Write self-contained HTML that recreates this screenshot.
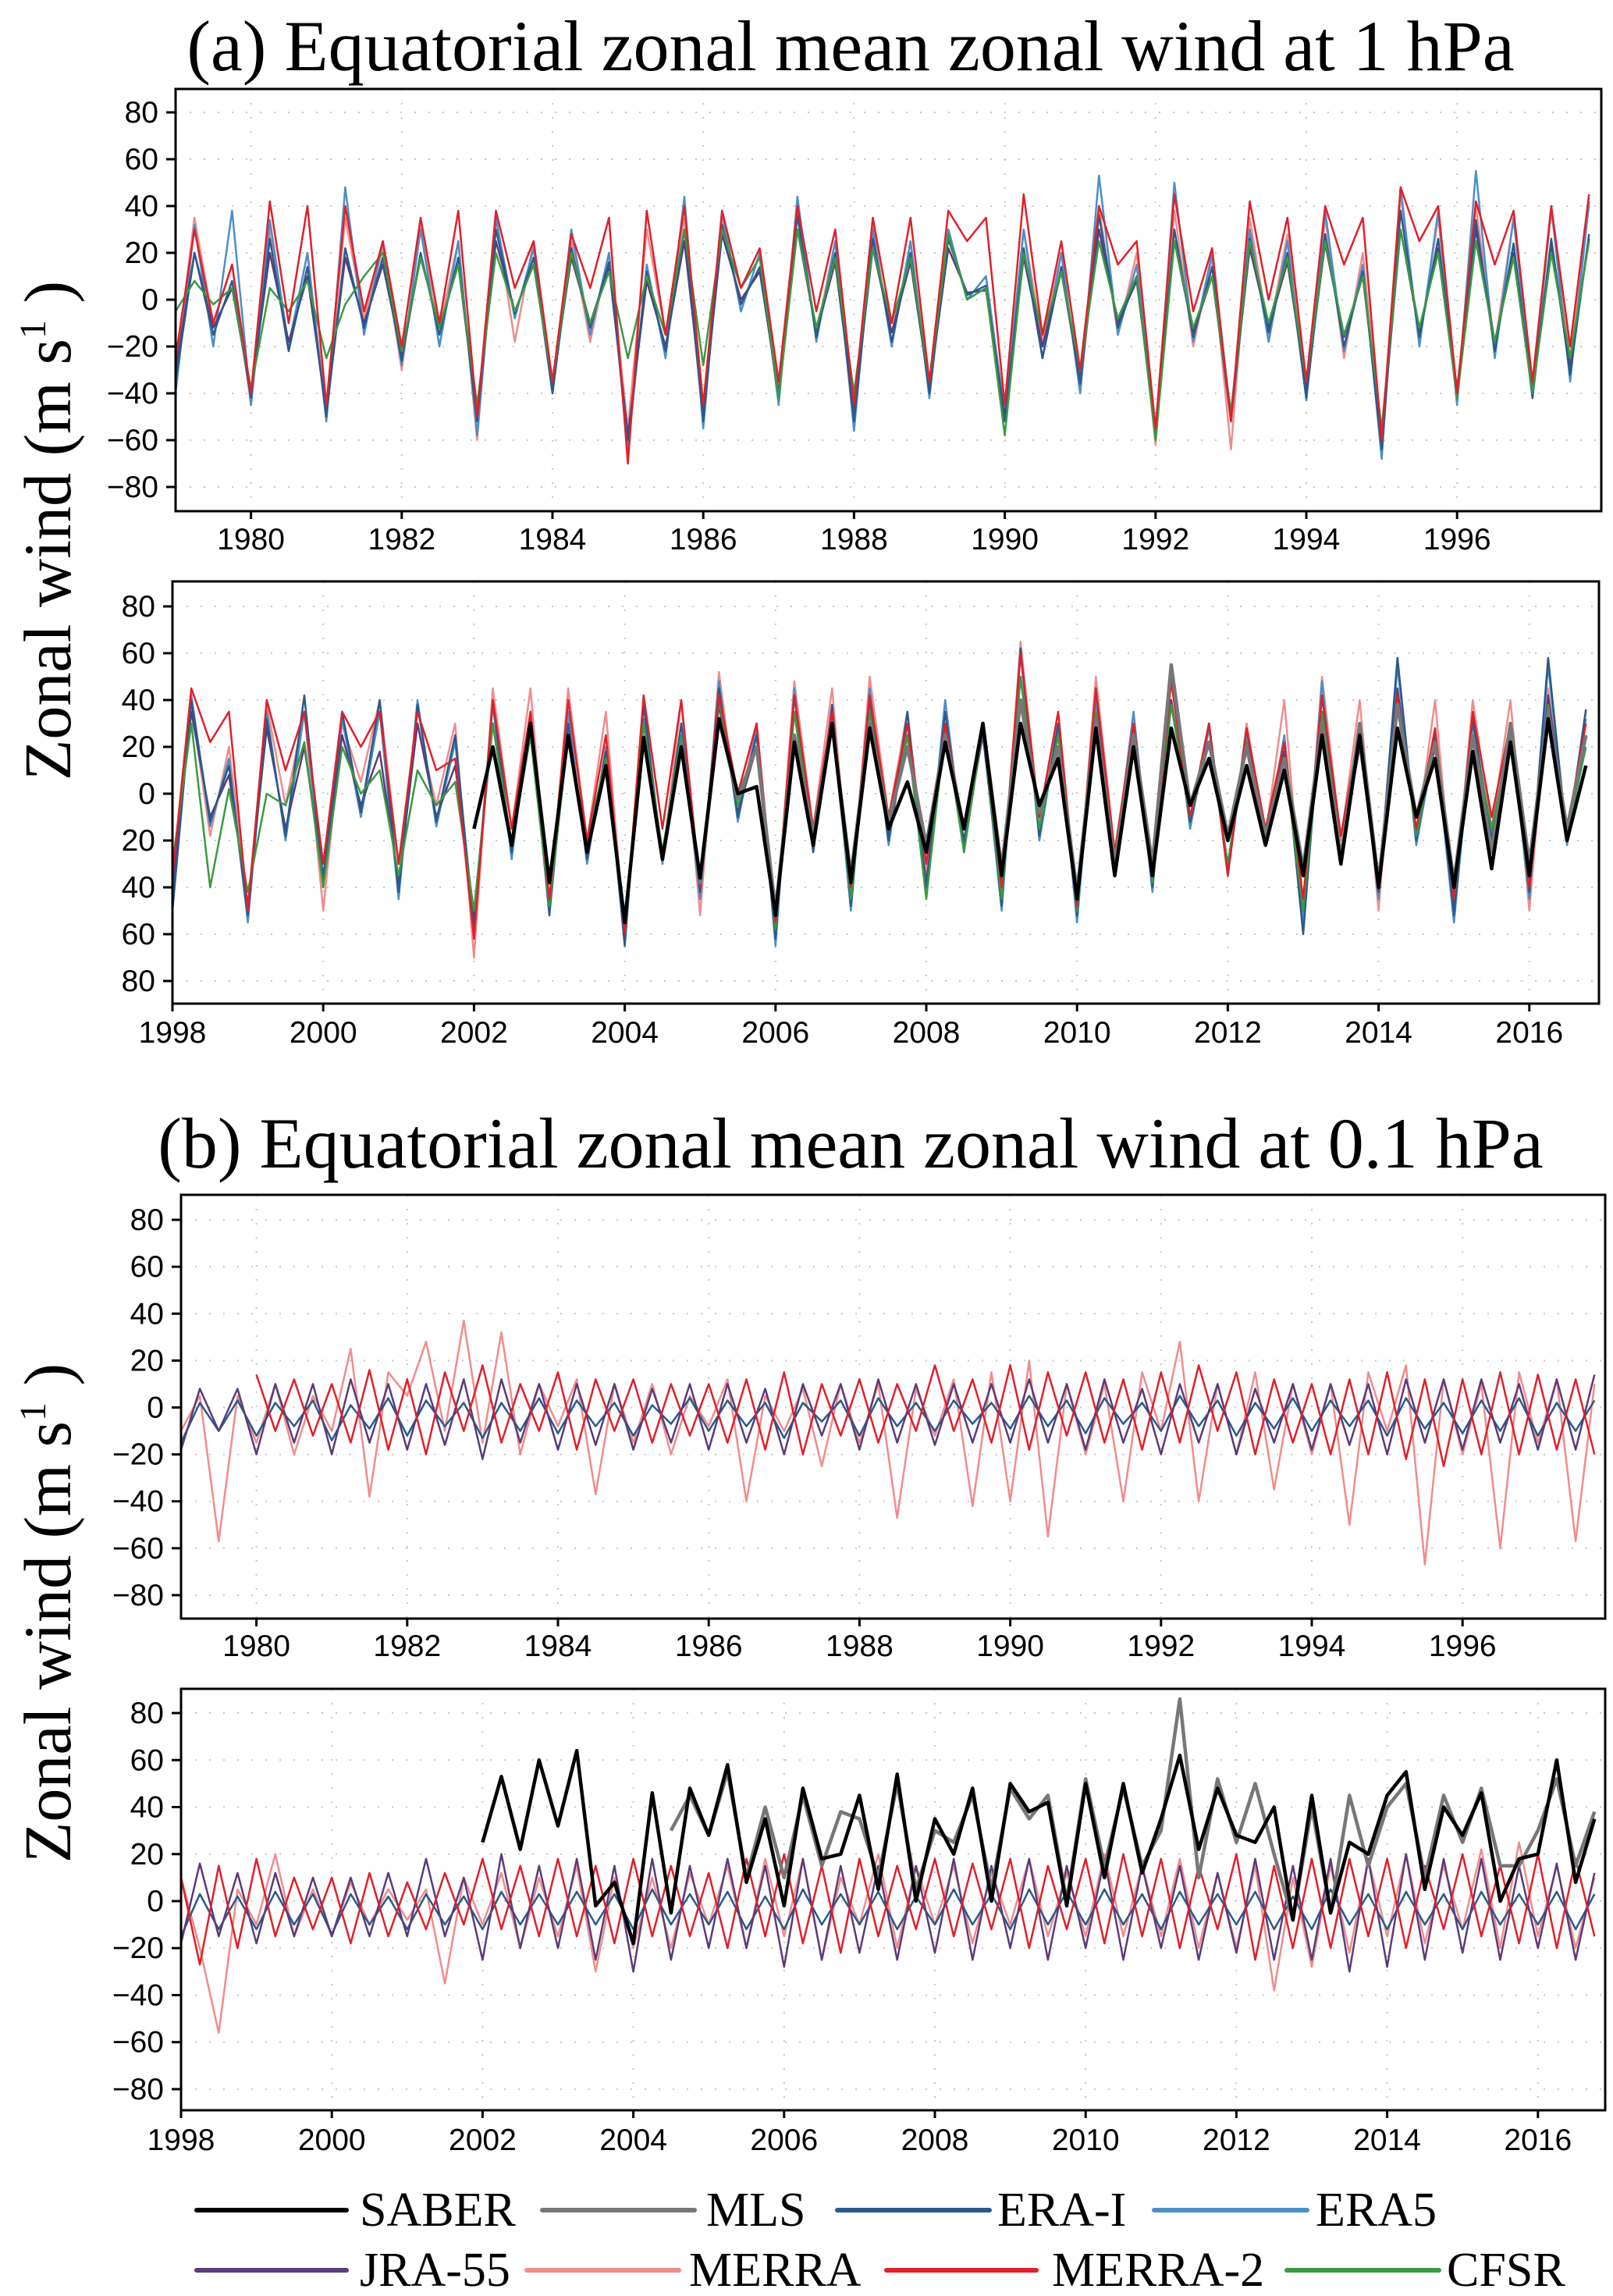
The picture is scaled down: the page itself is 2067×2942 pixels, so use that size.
<!DOCTYPE html>
<html><head><meta charset="utf-8">
<style>
html,body{margin:0;padding:0;background:#fff;}
svg{display:block;}
.tick{font-family:"Liberation Sans Narrow","Liberation Sans",sans-serif;font-size:39px;fill:#000;}
.title{font-family:"Liberation Serif",serif;font-size:92px;fill:#000;}
.ytitle{font-family:"Liberation Serif",serif;font-size:86px;fill:#000;}
.leg{font-family:"Liberation Serif",serif;font-size:62px;fill:#000;}
</style></head>
<body>
<svg id="chart" width="2067" height="2942" viewBox="0 0 2067 2942" xmlns="http://www.w3.org/2000/svg">
<text class="title" x="1090" y="90" text-anchor="middle">(a) Equatorial zonal mean zonal wind at 1 hPa</text>
<text class="title" x="1090" y="1496" text-anchor="middle">(b) Equatorial zonal mean zonal wind at 0.1 hPa</text>
<text class="ytitle" transform="translate(90,680) rotate(-90)" text-anchor="middle">Zonal wind (m s<tspan dy="-32" font-size="48">1</tspan><tspan dy="32"> )</tspan></text>
<text class="ytitle" transform="translate(90,2067) rotate(-90)" text-anchor="middle">Zonal wind (m s<tspan dy="-32" font-size="48">1</tspan><tspan dy="32"> )</tspan></text>
<g id="panels"></g>
<g id="legend"></g>
</svg>
<script>
const yTicks=[80,60,40,20,0,-20,-40,-60,-80];
const xTicksA=[1980,1982,1984,1986,1988,1990,1992,1994,1996];
const xTicksB=[1998,2000,2002,2004,2006,2008,2010,2012,2014,2016];
const seriesNames=["SABER","MLS","ERA-I","ERA5","JRA-55","MERRA","MERRA-2","CFSR"];
const seriesColors={"SABER":"#000000","MLS":"#777777","ERA-I":"#2a5a8a","ERA5":"#4b8fc6","JRA-55":"#5b3b7a","MERRA":"#f08c8c","MERRA-2":"#e0202a","CFSR":"#3a9a42"};
const seriesWidths={"SABER":4.5,"MLS":4.5,"ERA-I":2.5,"ERA5":2.5,"JRA-55":2.5,"MERRA":2.5,"MERRA-2":2.5,"CFSR":2.5};
const N=null;
// quarterly values (Jan, Apr, Jul, Oct) per year
const a1_ERAI=[-35,20,-15,8,-42,26,-22,14,-50,22,-12,18,-26,20,-15,18,-52,30,-6,18,-40,22,-12,16,-60,12,-22,30,-52,32,-2,14,-42,36,-16,20,-52,26,-18,20,-40,26,2,6,-52,22,-25,14,-36,36,-12,10,-58,30,-16,14,-52,26,-14,20,-42,28,-20,12,-64,38,-16,26,-42,34,-22,24,-42,26,-32,28];
const a1_ERA5=[-40,32,-20,38,-45,34,-20,20,-52,48,-15,25,-28,30,-20,25,-58,35,-8,22,-40,30,-15,20,-65,15,-25,44,-55,38,-5,20,-45,44,-18,25,-56,30,-20,25,-42,30,0,10,-50,30,-25,20,-40,53,-15,15,-60,50,-18,20,-50,30,-18,25,-43,38,-22,15,-68,48,-20,38,-45,55,-25,35,-42,40,-35,42];
const a1_JRA=[-30,20,-12,5,-40,20,-18,10,-48,18,-10,15,-24,18,-12,15,-50,25,-5,15,-36,18,-10,14,-58,8,-20,25,-48,28,0,12,-40,30,-14,16,-48,22,-14,16,-38,22,3,4,-50,18,-20,12,-34,30,-10,8,-56,25,-14,10,-50,22,-12,16,-38,24,-16,10,-60,30,-14,22,-38,30,-18,20,-38,22,-28,26];
const a1_MERRA=[-30,35,-10,15,-45,30,-20,20,-48,35,-8,22,-30,32,-12,25,-60,35,-18,25,-38,25,-18,20,-55,30,-15,35,-45,35,-5,20,-38,38,-15,25,-50,32,-20,25,-40,30,0,10,-48,30,-18,20,-40,40,-15,20,-62,38,-20,18,-64,35,-15,28,-40,35,-25,20,-62,45,-18,35,-40,40,-20,35,-38,38,-25,40];
const a1_MERRA2=[-25,30,-10,15,-40,42,-10,40,-45,40,-5,25,-20,35,-10,38,-50,38,5,25,-35,28,5,35,-70,38,-15,40,-45,38,5,22,-35,40,-5,30,-45,35,-10,35,-35,38,25,35,-45,45,-15,25,-30,40,15,25,-55,45,-5,22,-52,42,0,35,-35,40,15,35,-60,48,25,40,-40,42,15,38,-35,40,-20,45];
const a1_CFSR=[-5,8,-2,5,-38,5,-5,8,-25,-2,10,20,-22,18,-12,15,-45,20,-5,15,-35,20,-10,12,-25,10,-15,30,-28,30,5,18,-42,30,-12,18,-40,22,-10,18,-35,28,0,5,-58,20,-15,12,-30,25,-8,10,-60,25,-12,10,-48,25,-10,18,-35,25,-15,10,-55,30,-12,20,-42,25,-18,18,-40,20,-25,25];

const a2_ERAI=[-50,40,-12,12,-52,32,-18,42,-38,35,-8,40,-42,38,-12,25,-58,40,-25,32,-52,30,-28,18,-65,38,-28,30,-42,45,-10,25,-62,42,-25,38,-48,40,-20,35,-40,35,-22,30,-48,62,-18,30,-52,45,-32,30,-40,55,-12,30,-32,28,-20,22,-60,42,-28,25,-42,58,-20,25,-52,32,-20,30,-42,58,-20,36];
const a2_ERA5=[-48,42,-14,15,-55,35,-20,35,-40,32,-10,35,-45,40,-14,22,-55,38,-28,35,-50,35,-30,20,-60,32,-30,25,-45,48,-12,28,-65,45,-25,35,-50,45,-22,30,-42,40,-25,28,-50,60,-20,28,-55,40,-30,35,-42,50,-15,28,-35,25,-22,25,-55,48,-30,28,-45,55,-22,22,-55,30,-18,28,-45,55,-22,32];
const a2_JRA=[-40,35,-10,8,-48,28,-15,20,-35,25,-5,18,-38,30,-10,12,-52,30,-22,25,-48,25,-25,15,-58,30,-25,22,-40,38,-8,20,-58,35,-22,28,-45,35,-18,25,-38,28,-20,25,-45,50,-15,25,-50,35,-30,25,-38,40,-12,22,-30,22,-18,18,-50,35,-25,20,-40,45,-18,20,-48,25,-15,22,-40,42,-18,25];
const a2_MERRA=[-35,38,-18,20,-48,38,-5,35,-50,30,5,40,-30,30,-5,30,-70,45,-15,45,-50,45,-20,35,-60,40,-30,40,-52,52,-10,30,-58,48,-15,45,-48,50,-10,35,-35,35,-25,30,-48,65,-12,30,-50,50,-25,30,-35,55,-10,30,-35,30,-18,40,-55,50,-20,40,-50,55,-20,40,-50,40,-15,40,-50,45,-20,35];
const a2_MERRA2=[-35,45,22,35,-50,40,10,35,-30,35,20,35,-30,35,10,15,-62,40,-15,35,-45,40,-20,25,-60,42,-15,40,-40,42,0,30,-55,42,-15,35,-40,42,-10,30,-30,30,-15,30,-40,60,-10,35,-48,45,-25,30,-35,48,-10,30,-35,28,-15,22,-45,42,-18,28,-40,42,-15,28,-45,35,-10,30,-40,35,-15,30];
const a2_CFSR=[-30,30,-40,2,-42,0,-5,22,-40,20,0,10,-35,10,-5,5,-50,30,-22,25,-48,25,-20,15,-55,30,-25,25,-40,40,-5,20,-58,35,-20,30,-45,35,-15,25,-45,28,-25,28,-45,50,-15,25,-50,35,-30,25,-38,38,-10,22,-30,22,-18,15,-50,35,-25,22,-40,42,-18,22,-45,25,-15,25,-40,38,-18,20];
const a2_SABER=[N,N,N,N,N,N,N,N,N,N,N,N,N,N,N,N,-15,20,-22,30,-38,25,-25,12,-55,24,-28,20,-36,32,0,3,-52,22,-22,30,-38,28,-15,5,-25,22,-15,30,-35,30,-5,15,-45,28,-35,20,-35,28,-5,15,-20,12,-22,10,-35,25,-30,25,-40,28,-10,15,-40,18,-32,22,-35,32,-20,12];
const a2_MLS=[N,N,N,N,N,N,N,N,N,N,N,N,N,N,N,N,N,N,N,N,N,N,N,N,N,N,N,22,-38,32,-2,20,-50,25,-18,30,-35,30,-12,20,-22,25,-15,30,-32,40,-8,20,-42,32,-30,25,-30,55,-5,22,-18,20,-18,15,-32,30,-28,30,-38,38,-10,22,-38,25,-25,30,-30,35,-15,25];

const b1_ERAI=[-15,2,-10,3,-12,2,-8,3,-14,1,-9,4,-12,3,-8,2,-13,2,-10,4,-11,3,-8,2,-12,1,-7,4,-10,3,-8,2,-13,2,-6,3,-12,4,-8,2,-10,3,-7,2,-9,5,-8,3,-11,4,-7,2,-10,5,-8,3,-12,2,-9,4,-10,3,-8,3,-12,4,-9,2,-11,3,-10,4,-12,2,-10,3];
const b1_JRA=[-18,8,-10,8,-20,10,-15,10,-20,12,-15,10,-18,10,-16,12,-22,12,-15,10,-18,10,-16,10,-18,8,-15,10,-18,10,-15,8,-20,10,-12,10,-18,12,-15,10,-16,10,-15,10,-15,12,-15,10,-18,12,-15,8,-20,10,-15,10,-20,8,-15,10,-18,10,-16,10,-20,12,-15,12,-18,12,-15,10,-18,12,-18,14];
const b1_MERRA=[-10,5,-57,5,-15,10,-20,5,-10,25,-38,15,5,28,-10,37,-15,32,-20,10,-8,12,-37,10,-15,10,-20,5,-8,12,-40,5,-10,8,-25,10,-15,10,-47,8,-12,12,-42,15,-40,20,-55,10,-20,10,-40,15,-10,28,-40,10,-20,15,-35,10,-20,10,-50,15,-10,18,-67,12,-20,10,-60,15,-15,12,-57,10];
const b1_MERRA2=[N,N,N,N,14,-10,12,-12,10,-15,16,-18,12,-20,15,-10,18,-15,10,-10,15,-18,12,-10,12,-15,10,-12,10,-15,12,-18,15,-20,10,-12,12,-15,10,-10,18,-10,12,-15,18,-18,15,-12,15,-15,12,-18,15,-15,18,-10,15,-20,12,-15,10,-20,12,-20,15,-22,12,-25,12,-20,15,-20,14,-18,12,-20];

const b2_ERAI=[-15,3,-12,2,-12,4,-10,3,-14,3,-10,2,-12,3,-10,2,-12,4,-10,3,-10,4,-10,3,-12,5,-10,3,-10,4,-12,2,-12,5,-10,3,-10,4,-12,2,-10,5,-10,3,-12,5,-10,4,-10,5,-10,3,-12,4,-10,3,-10,4,-12,2,-12,5,-10,3,-12,4,-10,3,-12,4,-10,3,-10,4,-12,3];
const b2_JRA=[-18,16,-15,12,-18,12,-15,10,-15,10,-15,12,-15,18,-15,10,-25,20,-20,15,-20,18,-25,15,-30,18,-25,15,-20,18,-20,15,-28,18,-25,15,-22,15,-25,15,-22,18,-25,15,-20,18,-25,15,-20,18,-25,15,-20,15,-25,12,-22,18,-25,15,-25,18,-30,18,-28,20,-25,18,-22,18,-25,15,-20,16,-25,12];
const b2_MERRA=[10,-20,-56,5,-10,20,-15,5,-15,8,-10,5,-8,5,-35,10,-10,12,-20,10,-15,15,-30,10,-20,10,-20,12,-10,15,-20,18,-15,18,-25,10,-10,20,-20,15,-10,15,-18,12,-10,18,-15,12,-15,20,-15,15,-15,18,-20,12,-20,15,-38,10,-28,15,-22,18,-15,20,-18,15,-12,22,-20,25,-15,15,-20,10];
const b2_MERRA2=[10,-27,15,-20,18,-15,10,-12,10,-18,12,-15,8,-12,12,-10,18,-12,15,-15,18,-15,15,-18,18,-15,15,-15,12,-20,18,-15,20,-18,15,-22,18,-15,15,-12,18,-15,16,-12,18,-20,15,-12,18,-18,20,-15,18,-20,15,-12,20,-25,15,-20,18,-20,18,-15,18,-20,15,-12,20,-15,15,-18,20,-20,18,-15];
const b2_SABER=[N,N,N,N,N,N,N,N,N,N,N,N,N,N,N,N,25,53,22,60,32,64,-2,8,-18,46,-5,48,28,58,8,35,-2,48,18,20,45,5,54,0,35,20,48,0,50,38,42,-2,50,10,50,12,35,62,22,48,28,25,40,-8,45,-5,25,20,45,55,5,40,28,46,0,18,20,60,8,35];
const b2_MLS=[N,N,N,N,N,N,N,N,N,N,N,N,N,N,N,N,N,N,N,N,N,N,N,N,N,N,30,45,28,55,10,40,10,45,15,38,35,10,50,5,30,25,45,5,48,35,45,0,52,15,48,15,30,86,10,52,25,50,20,-8,40,-5,45,15,40,50,10,45,25,48,15,15,30,52,15,38];

const panels=[
 {name:"panel-a-1979-1997",left:225,right:2052,top:114,bottom:655,y0:384,ppu:3,x0:1979,xt:xTicksA,ly:704,neg:true,
  series:[["MERRA",a1_MERRA],["ERA5",a1_ERA5],["JRA-55",a1_JRA],["ERA-I",a1_ERAI],["CFSR",a1_CFSR],["MERRA-2",a1_MERRA2]]},
 {name:"panel-a-1998-2016",left:221,right:2049,top:745,bottom:1286,y0:1017,ppu:3,x0:1998,xt:xTicksB,ly:1336,neg:false,
  series:[["MERRA",a2_MERRA],["ERA5",a2_ERA5],["JRA-55",a2_JRA],["ERA-I",a2_ERAI],["CFSR",a2_CFSR],["MERRA-2",a2_MERRA2],["MLS",a2_MLS],["SABER",a2_SABER]]},
 {name:"panel-b-1979-1997",left:232,right:2057,top:1531,bottom:2074,y0:1803.5,ppu:3.006,x0:1979,xt:xTicksA,ly:2122,neg:true,
  series:[["MERRA",b1_MERRA],["ERA-I",b1_ERAI],["JRA-55",b1_JRA],["MERRA-2",b1_MERRA2]]},
 {name:"panel-b-1998-2016",left:232,right:2057,top:2164,bottom:2704,y0:2436,ppu:3.012,x0:1998,xt:xTicksB,ly:2755,neg:true,
  series:[["MERRA",b2_MERRA],["ERA-I",b2_ERAI],["JRA-55",b2_JRA],["MERRA-2",b2_MERRA2],["MLS",b2_MLS],["SABER",b2_SABER]]}
];
const NS="http://www.w3.org/2000/svg";
function mk(tag,attrs,parent){const e=document.createElementNS(NS,tag);for(const k in attrs)e.setAttribute(k,attrs[k]);if(parent)parent.appendChild(e);return e;}
const root=document.getElementById("panels");
const PPY=96.6;
panels.forEach(p=>{
 const g=mk("g",{},root);
 
 
 const xs=t=>p.left+(t-p.x0)*PPY;
 const ys=v=>p.y0-v*p.ppu;
 const cid="clip-"+p.name;
 const cp=mk("clipPath",{id:cid},g);mk("rect",{x:p.left,y:p.top,width:p.right-p.left,height:p.bottom-p.top},cp);
 yTicks.forEach(v=>{const l=mk("line",{x1:p.left,x2:p.right,y1:ys(v),y2:ys(v),stroke:"#c8c8c8","stroke-width":2,"stroke-dasharray":"2 16"},g);
  
  });
 p.xt.forEach(t=>{const l=mk("line",{x1:xs(t),x2:xs(t),y1:p.top,y2:p.bottom,stroke:"#c8c8c8","stroke-width":2,"stroke-dasharray":"2 16"},g);
  
  });
 const sg=mk("g",{"clip-path":"url(#"+cid+")"},g);
 p.series.forEach(([nm,arr])=>{
  let d="",pen=false;
  arr.forEach((v,i)=>{if(v===null){pen=false;return;}const x=xs(p.x0+i*0.25),y=ys(v);d+=(pen?"L":"M")+x.toFixed(1)+" "+y.toFixed(1);pen=true;});
  const path=mk("path",{d:d,fill:"none",stroke:seriesColors[nm],"stroke-width":seriesWidths[nm],"stroke-linejoin":"round"},sg);
  
  
 });
 const fr=mk("rect",{x:p.left,y:p.top,width:p.right-p.left,height:p.bottom-p.top,fill:"none",stroke:"#000","stroke-width":3},g);
 
 
 yTicks.forEach(v=>{
  mk("line",{x1:p.left-12,x2:p.left,y1:ys(v),y2:ys(v),stroke:"#000","stroke-width":3},g);
  const t=mk("text",{class:"tick",x:p.left-22,y:ys(v)+13,"text-anchor":"end"},g);
  t.textContent=(v<0?(p.neg?"\u2212":""):"")+Math.abs(v);
  
  
 });
 p.xt.forEach(tk=>{
  mk("line",{x1:xs(tk),x2:xs(tk),y1:p.bottom,y2:p.bottom+10,stroke:"#000","stroke-width":3},g);
  const t=mk("text",{class:"tick",x:xs(tk),y:p.ly,"text-anchor":"middle"},g);
  t.textContent=tk;
  
  
 });
});
const legPos=[[252,444,461,2852],[695,890,905,2852],[1073,1268,1278,2852],[1479,1675,1686,2852],[252,444,461,2929],[675,870,883,2929],[1136,1328,1348,2929],[1649,1844,1854,2929]];
const lg=document.getElementById("legend");
seriesNames.forEach((nm,i)=>{
 const [x1,x2,tx,ty]=legPos[i];
 const g=mk("g",{},lg);
 
 
 mk("line",{x1:x1,x2:x2,y1:ty-20,y2:ty-20,stroke:seriesColors[nm],"stroke-width":6,"stroke-linecap":"round"},g);
 const t=mk("text",{class:"leg",x:tx,y:ty},g);t.textContent=nm;
});
</script>
</body></html>
